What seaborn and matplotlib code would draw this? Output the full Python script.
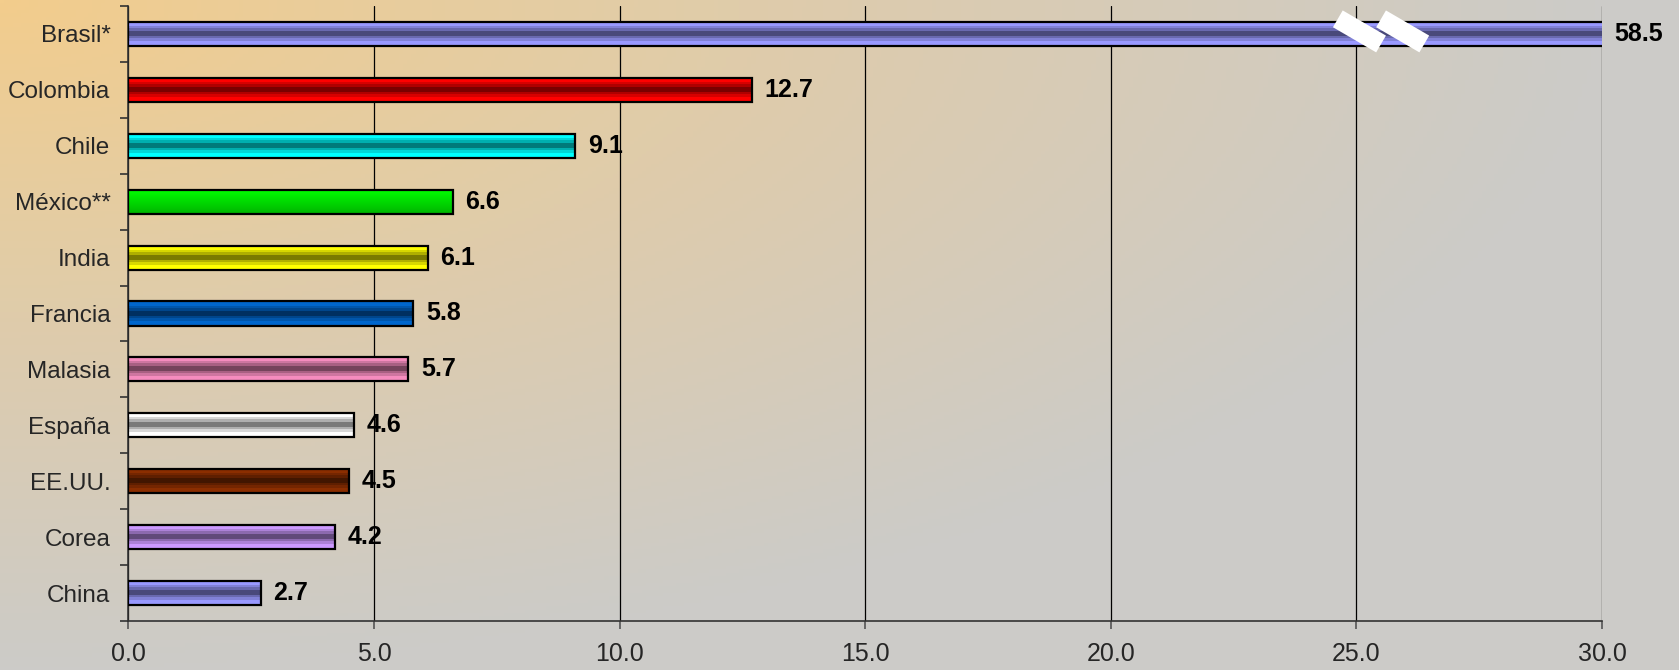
import numpy as np
import pandas as pd
import matplotlib
matplotlib.use("Agg")
import matplotlib.pyplot as plt
import matplotlib.colors as mcolors
import seaborn as sns

# data
countries = ['Brasil*', 'Colombia', 'Chile', 'México**', 'India', 'Francia',
             'Malasia', 'España', 'EE.UU.', 'Corea', 'China']
values = [58.5, 12.7, 9.1, 6.6, 6.1, 5.8, 5.7, 4.6, 4.5, 4.2, 2.7]
bar_colors = ['#9999FF', '#FF0000', '#00FFFF', '#00FF00', '#FFFF00', '#0066CC',
              '#F58CBE', '#FFFFFF', '#8B2E00', '#CC99FF', '#9999FF']
shading = ['band', 'band', 'band', 'fade', 'band', 'band',
           'band', 'band', 'band', 'band', 'band']
x_ticks = [0, 5, 10, 15, 20, 25, 30]
x_max = 30

sns.set_theme(style="white")
plt.rcParams['font.family'] = ['Liberation Sans', 'DejaVu Sans']

df = pd.DataFrame({'pais': countries, 'valor': values})

fig = plt.figure(figsize=(16.79, 6.70), dpi=100)

# gradient background: orange top-left fading to grey
bg = fig.add_axes([0, 0, 1, 1], zorder=-10)
gx, gy = np.meshgrid(np.linspace(0, 1, 400), np.linspace(0, 1, 200))
t = np.clip(np.sqrt((gx * 1.05) ** 2 + (gy * 1.0) ** 2), 0, 1) ** 0.9
c0 = np.array([243, 205, 140]) / 255
c1 = np.array([204, 203, 200]) / 255
bg.imshow(c0 + (c1 - c0) * t[..., None], aspect='auto', extent=[0, 1, 0, 1], origin='upper')
bg.axis('off')

ax = fig.add_axes([0.0765, 0.0731, 0.8777, 0.918])
ax.set_facecolor('none')

sns.barplot(data=df, x='valor', y='pais', hue='pais', palette=bar_colors,
            legend=False, orient='h', width=0.43, edgecolor='black',
            linewidth=1.6, ax=ax, zorder=3)

# stepped cylinder shading inside each bar
band = np.array([0.0, 0.0, 0.3, 0.6, 1.0, 1.0, 0.6, 0.3, 0.0, 0.0])
fade = np.linspace(0.0, 0.55, 20)
for patch, col, kind in zip(ax.patches, bar_colors, shading):
    base = np.array(mcolors.to_rgb(col))
    dark = base * 0.48
    prof = band if kind == 'band' else fade
    rows = base + (dark - base) * prof[:, None]
    img = np.repeat(rows[:, None, :], 2, axis=1)
    x0, y0 = patch.get_x(), patch.get_y()
    w, h = patch.get_width(), patch.get_height()
    im = ax.imshow(img, extent=[x0, min(x0 + w, x_max), y0 + h, y0], aspect='auto',
                   interpolation='nearest' if kind == 'band' else 'bilinear',
                   zorder=3.5, origin='upper')
    im.set_clip_path(patch)
    patch.set_facecolor('none')
    patch.set_zorder(4)

ax.set_xlim(0, x_max)
ax.set_ylim(len(countries) - 0.5, -0.5)

# value labels
for i, v in enumerate(values):
    ax.annotate(f"{v:.1f}", xy=(min(v, x_max), i), xytext=(9, 0),
                textcoords='offset points', va='center', ha='left',
                fontsize=18, fontweight='bold', color='black',
                annotation_clip=False, zorder=8)

# axis break marks on the Brasil bar
for dx in (0.0, 0.88):
    ax.plot([24.62 + dx, 25.50 + dx], [-0.27, 0.18], color='white', lw=14,
            solid_capstyle='butt', zorder=6, clip_on=False)

ax.set_xticks(x_ticks)
ax.set_xticklabels([f"{x:.1f}" for x in x_ticks])
ax.set_yticks(range(len(countries)))
ax.set_yticks(np.arange(-0.5, len(countries), 1), minor=True)
ax.tick_params(axis='y', which='major', length=0, pad=13, labelsize=17.5)
ax.tick_params(axis='y', which='minor', left=True, length=6, width=1.2, color='#333333')
ax.tick_params(axis='x', bottom=True, length=6, width=1.2, color='#555555',
               pad=9, labelsize=18)

ax.grid(axis='x', color='black', linewidth=0.9, zorder=1)
ax.set_axisbelow(True)
for s in ['top', 'right']:
    ax.spines[s].set_visible(False)
for s in ['left', 'bottom']:
    ax.spines[s].set_color('#333333')
    ax.spines[s].set_linewidth(1.2)
ax.set_xlabel('')
ax.set_ylabel('')

fig.savefig('out.png', dpi=100)
